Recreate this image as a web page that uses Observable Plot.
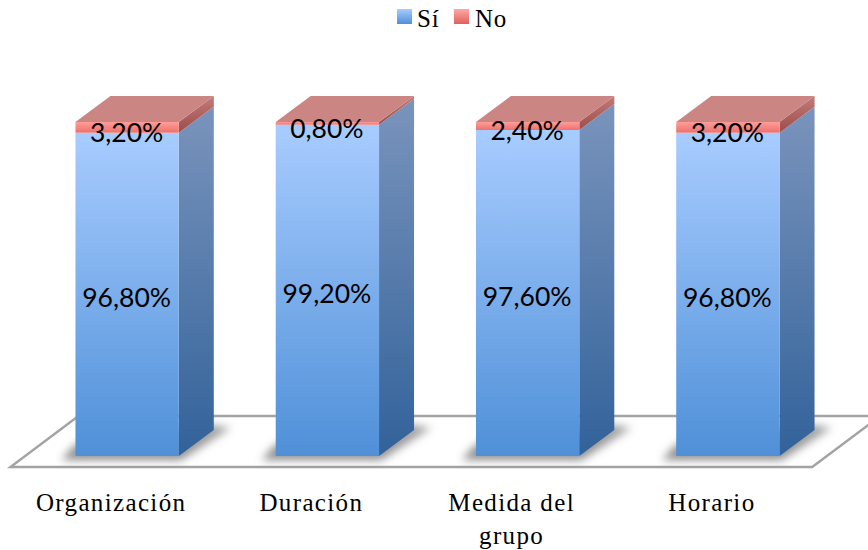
<!DOCTYPE html>
<html><head><meta charset="utf-8">
<script src="https://cdn.jsdelivr.net/npm/d3@7"></script>
<script src="https://cdn.jsdelivr.net/npm/@observablehq/plot@0.6"></script>
<style>
html,body{margin:0;padding:0;background:#fff;overflow:hidden;width:868px;height:550px}
#legend{position:relative;height:36px;font:25px "Liberation Serif",serif;letter-spacing:.8px;color:#000}
#legend i{position:absolute;top:9px;width:15px;height:15px}
#legend span{position:absolute;top:4px;line-height:30px}
[aria-label="x-axis tick label"] text{letter-spacing:1.35px}
</style></head><body>
<div id="legend">
<i style="left:397px;background:linear-gradient(#a8ccff,#4f90d8)"></i><span style="left:417px">Sí</span>
<i style="left:454px;background:linear-gradient(#ffa8a5,#e0605c)"></i><span style="left:475px">No</span>
</div>
<div id="chart"></div>
<script>
const categories = ["Organización", "Duración", "Medida del\ngrupo", "Horario"];
const si = [96.8, 99.2, 97.6, 96.8];
const no = [3.2, 0.8, 2.4, 3.2];
const fmt = v => v.toFixed(2).replace(".", ",") + "%";
const rows = categories.map((c, i) => ({cat: c, si: si[i], no: no[i]}));
const DX = 35, DY = -26;

const defs = () => {
  const g = d3.create("svg:g");
  const d = g.append("defs");
  const grad = (id, stops, x2 = 0, y2 = 1) => {
    const l = d.append("linearGradient").attr("id", id).attr("x1", 0).attr("y1", 0).attr("x2", x2).attr("y2", y2);
    stops.forEach(([o, c]) => l.append("stop").attr("offset", o).attr("stop-color", c));
  };
  grad("gSi", [[0, "#a8ccff"], [1, "#4f90d8"]]);
  grad("gNo", [[0, "#ff9d99"], [1, "#ee706c"]]);
  grad("gSide", [[0, "#7a94bc"], [1, "#32629a"]]);
  grad("gSideNo", [[0, "#c47a77"], [1, "#9a4e4b"]]);
  grad("gShadow", [[0, "#9a9a9a"], [1, "#777777"]]);
  d.append("filter").attr("id", "blur").attr("x", "-20%").attr("y", "-30%").attr("width", "140%").attr("height", "160%")
    .append("feGaussianBlur").attr("stdDeviation", 4);
  return g.node();
};

const floor = (index, scales) => {
  const y0 = scales.y(0), x0 = scales.x(categories[0]), x3 = scales.x(categories[3]);
  const g = d3.create("svg:g");
  const left = x0 - 65, right = x3 + 136, front = y0 + 11, back = y0 - 40;
  g.append("path")
    .attr("d", `M${left},${front}L${right},${front}L${right + 68},${back}L${left + 68},${back}Z`)
    .attr("fill", "#fff").attr("stroke", "#a3a3a3").attr("stroke-width", 2.4);
  return g.node();
};

const back3d = (index, scales) => {
  const bw = typeof scales.x.bandwidth === "function" ? scales.x.bandwidth() : scales.x.bandwidth;
  const g = d3.create("svg:g");
  const poly = (pts, fill, extra) => {
    const p = g.append("polygon").attr("points", pts.map(q => q.join(",")).join(" ")).attr("fill", fill);
    if (extra) p.attr("filter", extra).attr("fill-opacity", 0.85);
  };
  for (const r of rows) {
    const x = scales.x(r.cat), R = x + bw, y0 = scales.y(0), yS = scales.y(r.si), yT = scales.y(r.si + r.no);
    poly([[x - 14, y0 + 4], [R + 2, y0 + 4], [R + DX + 17, y0 + DY - 2], [R + DX - 4, y0 + DY - 6], [x, y0 - 12]], "url(#gShadow)", "url(#blur)");
    poly([[R, y0], [R + DX, y0 + DY], [R + DX, yS + DY], [R, yS]], "url(#gSide)");
    poly([[R, yS], [R + DX, yS + DY], [R + DX, yT + DY], [R, yT]], "url(#gSideNo)");
    poly([[x, yT], [R, yT], [R + DX, yT + DY], [x + DX, yT + DY]], "#cb8583");
  }
  return g.node();
};

const plot = Plot.plot({
  width: 868, height: 514,
  marginTop: 86, marginBottom: 94, marginLeft: 27, marginRight: 40,
  style: {background: "transparent"},
  x: {domain: categories, paddingInner: 0.484, paddingOuter: 0.242, round: false, label: null},
  y: {domain: [0, 100], axis: null},
  marks: [
    defs,
    floor,
    back3d,
    Plot.barY(rows, {x: "cat", y1: 0, y2: "si", fill: "url(#gSi)"}),
    Plot.barY(rows, {x: "cat", y1: "si", y2: d => d.si + d.no, fill: "url(#gNo)"}),
    Plot.axisX({
      tickSize: 0, tickPadding: 0, label: null, dx: -16.5, dy: 31, lineHeight: 1.32, lineAnchor: "top",
      fontSize: 25, fontFamily: "Liberation Serif", fill: "#000"
    }),
    Plot.text(rows, {x: "cat", y: d => d.si / 2, text: d => fmt(d.si), dx: -1, dy: 4, fontSize: 26.5, fontFamily: "Lato", fill: "#000"}),
    Plot.text(rows, {x: "cat", y: d => d.si + d.no / 2, text: d => fmt(d.no), dx: -1, dy: 5.5, fontSize: 26.5, fontFamily: "Lato", fill: "#000"})
  ]
});
document.getElementById("chart").append(plot);
</script>
</body></html>
